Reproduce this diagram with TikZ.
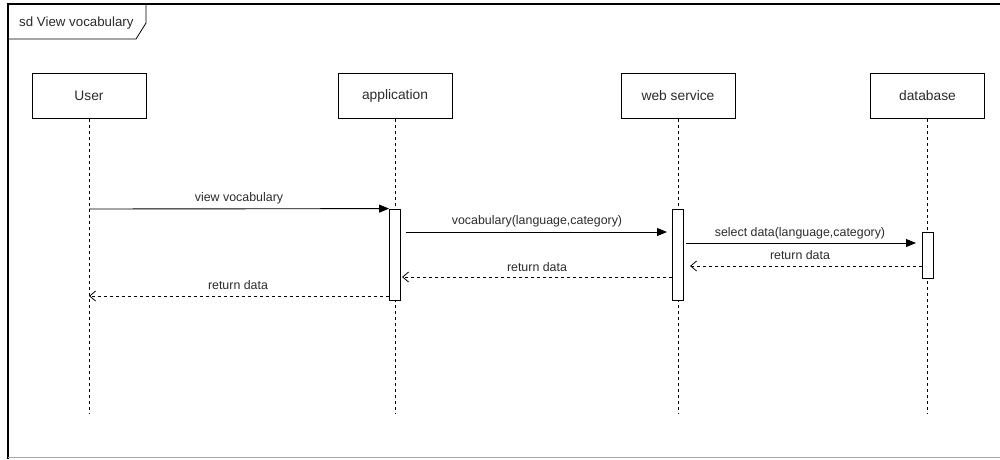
\documentclass[tikz,border=0pt]{standalone}
\usepackage{fontspec}
\setmainfont{Liberation Sans}
\usetikzlibrary{arrows.meta}
\definecolor{txt}{HTML}{2B2B2B}
\tikzset{
  actor/.style={draw=black, line width=0.8pt, minimum width=114pt, minimum height=45pt, font=\fontsize{13.8}{16}\selectfont, text=txt, inner sep=0pt},
  life/.style={draw=black, line width=0.7pt, dash pattern=on 3pt off 3pt},
  act/.style={draw=black, fill=white, line width=0.8pt},
  call/.style={draw=black, line width=0.9pt, -{Triangle[length=10pt,width=8pt]}},
  ret/.style={draw=black, line width=0.8pt, dash pattern=on 3pt off 3pt, -{Straight Barb[length=6pt,width=10pt]}},
  lbl/.style={font=\fontsize{12.4}{14}\selectfont, text=txt, inner sep=0pt}
}
\begin{document}
\begin{tikzpicture}[x=1pt,y=-1pt]
\useasboundingbox (0,0) rectangle (1000,459);
% frame
\draw[line width=2pt] (8,3) -- (8,459);
\draw[line width=2pt] (7,4) -- (1001,4);
\draw[gray!70, line width=1.5pt] (8,457.5) -- (1001,457.5);
% title tab
\draw[line width=0.8pt] (8,39) -- (136,39) -- (146,23) -- (146,4);
\node[lbl, font=\fontsize{13.3}{15}\selectfont, anchor=west] (title) at (19,23) {sd View vocabulary};
% actors
\node[actor] (user) at (89,96) {User};
\node[actor] (app) at (395,96) {application};
\node[actor] (ws) at (678,96) {web service};
\node[actor] (db) at (927.5,96) {database};
% lifelines
\coordinate (userend) at (89,413);
\coordinate (append) at (395,413);
\coordinate (wsend) at (678,413);
\coordinate (dbend) at (927.5,413);
\draw[life] (user.south) -- (userend);
\draw[life] (app.south) -- (append);
\draw[life] (ws.south) -- (wsend);
\draw[life] (db.south) -- (dbend);
% activations
\node[act, minimum width=11pt, minimum height=91pt, inner sep=0pt] (appact) at (395,254.5) {};
\node[act, minimum width=11pt, minimum height=91pt, inner sep=0pt] (wsact) at (678,254.5) {};
\node[act, minimum width=11pt, minimum height=46pt, inner sep=0pt] (dbact) at (927.5,255) {};
% messages
\coordinate (m1s) at (89,209);
\draw[call] (m1s) -- (appact.north west);
\node[lbl] (l1) at (239,198) {view vocabulary};

\coordinate (m2s) at (406,232);
\coordinate (m2e) at (667,232);
\draw[call] (m2s) -- (m2e);
\node[lbl] (l2) at (537,221) {vocabulary(language,category)};

\coordinate (m3s) at (686,243);
\coordinate (m3e) at (916,243);
\draw[call] (m3s) -- (m3e);
\node[lbl] (l3) at (800,233) {select data(language,category)};

\coordinate (r1e) at (690,266);
\draw[ret] (dbact.west |- r1e) -- (r1e);
\node[lbl] (l4) at (800,255) {return data};

\coordinate (r2e) at (402,277);
\draw[ret] (wsact.west |- r2e) -- (r2e);
\node[lbl] (l5) at (537,267) {return data};

\coordinate (r3e) at (89,296);
\draw[ret] (appact.west |- r3e) -- (r3e);
\node[lbl] (l6) at (238,285) {return data};
\end{tikzpicture}
\end{document}
